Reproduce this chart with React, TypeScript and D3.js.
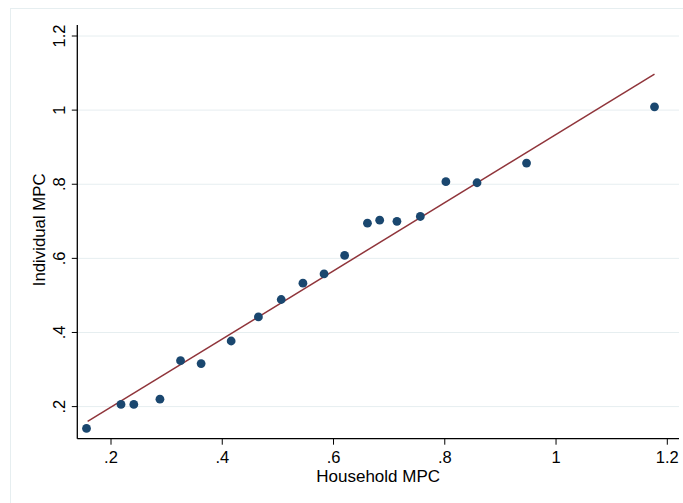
import React from "react";
import * as d3 from "d3";

const householdMPC = [0.156, 0.218, 0.241, 0.288, 0.325, 0.362, 0.416, 0.465, 0.506, 0.545, 0.583, 0.620, 0.661, 0.683, 0.714, 0.756, 0.802, 0.858, 0.947, 1.177];
const individualMPC = [0.141, 0.206, 0.206, 0.220, 0.324, 0.316, 0.377, 0.442, 0.489, 0.533, 0.558, 0.608, 0.695, 0.703, 0.700, 0.713, 0.807, 0.804, 0.857, 1.009];
const fitX = [0.158, 1.177];
const fitY = [0.160, 1.097];
const xTicks = [0.2, 0.4, 0.6, 0.8, 1.0, 1.2];
const yTicks = [0.2, 0.4, 0.6, 0.8, 1.0, 1.2];
const xTickLabels = [".2", ".4", ".6", ".8", "1", "1.2"];
const yTickLabels = [".2", ".4", ".6", ".8", "1", "1.2"];

const W = 683, H = 503;
const FONT = "'Liberation Sans', Arial, Helvetica, sans-serif";

export default function App() {
  const x = d3.scaleLinear().domain([0.2, 1.2]).range([111, 667.3]);
  const y = d3.scaleLinear().domain([0.2, 1.2]).range([406.6, 36]);
  const left = 77.3, right = 679, top = 25, bottom = 438.7;
  const line = d3.line<number>().x((d) => x(d)).y((_, i) => y(fitY[i]));
  const grid = "#e6eef0";
  return (
    <svg width={W} height={H} style={{ position: "fixed", left: 0, top: 0, background: "#fff" }}>
      <rect x={10.5} y={8.5} width={W} height={H} fill="#fff" stroke={grid} strokeWidth={1} />
      {yTicks.map((t) => (
        <line key={"g" + t} x1={left} x2={right} y1={y(t)} y2={y(t)} stroke={grid} strokeWidth={1} />
      ))}
      <path d={line(fitX) || ""} fill="none" stroke="#90353b" strokeWidth={1.5} />
      {householdMPC.map((v, i) => (
        <circle key={i} cx={x(v)} cy={y(individualMPC[i])} r={4.4} fill="#1a476f" />
      ))}
      <line x1={left} x2={left} y1={top} y2={bottom} stroke="#000" strokeWidth={1.3} />
      <line x1={left} x2={right} y1={bottom} y2={bottom} stroke="#000" strokeWidth={1.3} />
      {yTicks.map((t, i) => (
        <g key={"y" + t}>
          <line x1={left - 5.5} x2={left} y1={y(t)} y2={y(t)} stroke="#000" strokeWidth={1} />
          <text transform={`translate(64.5,${y(t)}) rotate(-90)`} textAnchor="middle" fontFamily={FONT} fontSize={16.5} fill="#000">
            {yTickLabels[i]}
          </text>
        </g>
      ))}
      {xTicks.map((t, i) => (
        <g key={"x" + t}>
          <line x1={x(t)} x2={x(t)} y1={bottom} y2={bottom + 6} stroke="#000" strokeWidth={1} />
          <text x={x(t)} y={462.7} textAnchor="middle" fontFamily={FONT} fontSize={16.5} fill="#000">
            {xTickLabels[i]}
          </text>
        </g>
      ))}
      <text x={(left + right) / 2} y={481.7} textAnchor="middle" fontFamily={FONT} fontSize={17} fill="#000">
        Household MPC
      </text>
      <text transform={`translate(45,${(top + bottom) / 2 - 2}) rotate(-90)`} textAnchor="middle" fontFamily={FONT} fontSize={16.8} fill="#000">
        Individual MPC
      </text>
    </svg>
  );
}
